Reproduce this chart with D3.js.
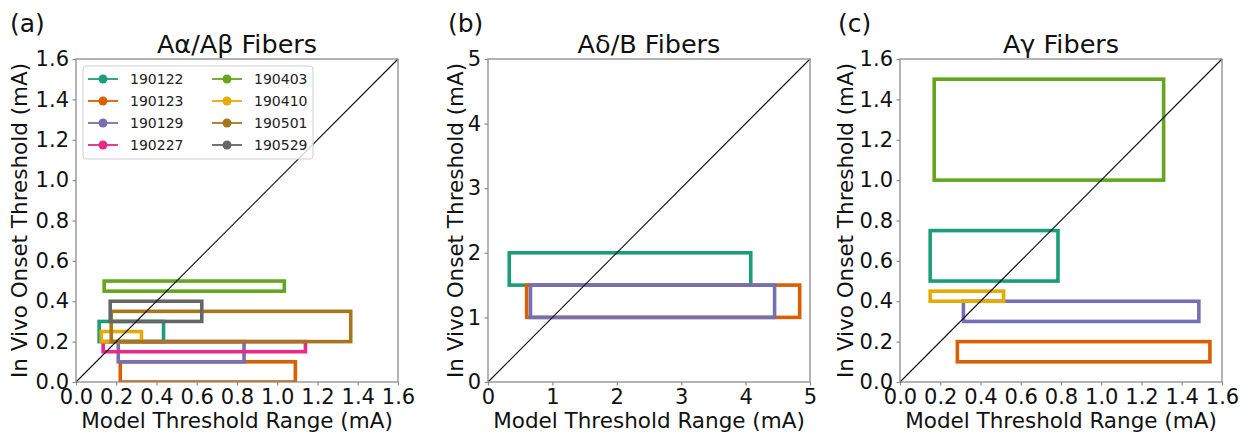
<!DOCTYPE html>
<html>
<head>
<meta charset="utf-8">
<script src="https://cdn.jsdelivr.net/npm/d3@7"></script>
<style>
  body { margin: 0; background: #fff; }
  svg { font-family: "DejaVu Sans", sans-serif; }
</style>
</head>
<body>
<svg width="1257" height="439"></svg>
<script>
// recording sessions, in plotting / legend order
const sessions = ['190122', '190123', '190129', '190227', '190403', '190410', '190501', '190529'];

// [session, model min, model max, in vivo min, in vivo max]  (mA)
const alphaBetaBoxes = [
  ['190122', 0.115, 0.435, 0.2, 0.3],
  ['190123', 0.22, 1.09, 0.0, 0.1],
  ['190129', 0.21, 0.835, 0.1, 0.2],
  ['190227', 0.135, 1.14, 0.15, 0.2],
  ['190403', 0.14, 1.035, 0.45, 0.5],
  ['190410', 0.125, 0.325, 0.2, 0.25],
  ['190501', 0.175, 1.365, 0.2, 0.35],
  ['190529', 0.17, 0.625, 0.3, 0.4]
];
const deltaBBoxes = [
  ['190122', 0.33, 4.08, 1.5, 2.0],
  ['190123', 0.6, 4.84, 1.0, 1.5],
  ['190129', 0.66, 4.45, 1.0, 1.5]
];
const gammaBoxes = [
  ['190122', 0.15, 0.785, 0.5, 0.75],
  ['190123', 0.285, 1.54, 0.1, 0.2],
  ['190129', 0.315, 1.485, 0.3, 0.4],
  ['190403', 0.17, 1.31, 1.0, 1.5],
  ['190410', 0.15, 0.515, 0.4, 0.45]
];

const fineTicks = [0, 0.2, 0.4, 0.6, 0.8, 1.0, 1.2, 1.4, 1.6];
const coarseTicks = [0, 1, 2, 3, 4, 5];

const color = d3.scaleOrdinal(sessions, d3.schemeDark2);
const svg = d3.select('svg');

const plotTop = 59, plotBottom = 382;
const spine = '#8c8c8c';

function drawPanel(p, idx) {
  const x = d3.scaleLinear().domain([0, p.max]).range([p.left, p.left + 322]);
  const y = d3.scaleLinear().domain([0, p.max]).range([plotBottom, plotTop]);
  const fmt = p.max > 2 ? d3.format('d') : d3.format('.1f');

  const clipId = 'clip' + idx;
  svg.append('clipPath').attr('id', clipId)
    .append('rect')
    .attr('x', x(0)).attr('y', y(p.max))
    .attr('width', x(p.max) - x(0)).attr('height', y(0) - y(p.max));

  // axes
  const gx = svg.append('g')
    .attr('transform', `translate(0, ${plotBottom})`)
    .call(d3.axisBottom(x).tickValues(p.ticks).tickFormat(fmt).tickSize(3.5).tickPadding(3.5));
  const gy = svg.append('g')
    .attr('transform', `translate(${p.left}, 0)`)
    .call(d3.axisLeft(y).tickValues(p.ticks).tickFormat(fmt).tickSize(3.5).tickPadding(3.5));
  [gx, gy].forEach(g => {
    g.select('.domain').remove();
    g.selectAll('line').attr('stroke', spine).attr('stroke-width', 1.2);
    g.selectAll('text').attr('font-size', 21).attr('fill', '#111')
      .attr('font-family', '"DejaVu Sans", sans-serif');
  });

  // boxes
  svg.append('g').attr('clip-path', `url(#${clipId})`)
    .selectAll('rect')
    .data(p.boxes)
    .join('rect')
    .attr('x', d => x(d[1]))
    .attr('y', d => y(d[4]))
    .attr('width', d => x(d[2]) - x(d[1]))
    .attr('height', d => y(d[3]) - y(d[4]))
    .attr('fill', 'none')
    .attr('stroke', d => color(d[0]))
    .attr('stroke-width', 3.6);

  // unity line
  svg.append('line')
    .attr('x1', x(0)).attr('y1', y(0))
    .attr('x2', x(p.max)).attr('y2', y(p.max))
    .attr('stroke', '#111').attr('stroke-width', 1.1);

  // frame
  svg.append('rect')
    .attr('x', x(0)).attr('y', y(p.max))
    .attr('width', x(p.max) - x(0)).attr('height', y(0) - y(p.max))
    .attr('fill', 'none').attr('stroke', spine).attr('stroke-width', 1.3);

  // labels
  svg.append('text')
    .attr('x', (x(0) + x(p.max)) / 2).attr('y', 53)
    .attr('text-anchor', 'middle').attr('font-size', 25.5).attr('fill', '#111')
    .text(p.title);
  svg.append('text')
    .attr('x', (x(0) + x(p.max)) / 2).attr('y', 428)
    .attr('text-anchor', 'middle').attr('font-size', 21.5).attr('fill', '#111')
    .text('Model Threshold Range (mA)');
  const ly = (plotTop + plotBottom) / 2;
  svg.append('text')
    .attr('transform', `translate(${p.left - p.labelOffset}, ${ly}) rotate(-90)`)
    .attr('text-anchor', 'middle').attr('font-size', 21.5).attr('fill', '#111')
    .text('In Vivo Onset Threshold (mA)');
  svg.append('text')
    .attr('x', p.tagX).attr('y', 32)
    .attr('font-size', 25).attr('fill', '#111')
    .text(p.tag);
}

const panels = [
  {tag: '(a)', tagX: 10, title: 'Aα/Aβ Fibers', left: 76, max: 1.6, ticks: fineTicks, boxes: alphaBetaBoxes, labelOffset: 49},
  {tag: '(b)', tagX: 448, title: 'Aδ/B Fibers', left: 488, max: 5, ticks: coarseTicks, boxes: deltaBBoxes, labelOffset: 25},
  {tag: '(c)', tagX: 838, title: 'Aγ Fibers', left: 900, max: 1.6, ticks: fineTicks, boxes: gammaBoxes, labelOffset: 47}
];
panels.forEach(drawPanel);

// legend in panel (a)
const legend = svg.append('g');
legend.append('rect')
  .attr('x', 83).attr('y', 66).attr('width', 230).attr('height', 93)
  .attr('rx', 3)
  .attr('fill', '#fff').attr('fill-opacity', 0.8)
  .attr('stroke', '#cfcfcf').attr('stroke-width', 1);

const items = legend.selectAll('g.item')
  .data(sessions)
  .join('g')
  .attr('class', 'item')
  .attr('transform', (d, i) => `translate(${i < 4 ? 88 : 212}, ${79 + (i % 4) * 22})`);
items.append('line')
  .attr('x1', 0).attr('x2', 30)
  .attr('stroke', d => color(d)).attr('stroke-width', 1.8);
items.append('circle')
  .attr('cx', 15).attr('r', 4.5)
  .attr('fill', d => color(d));
items.append('text')
  .attr('x', 42).attr('dy', '0.36em')
  .attr('font-size', 14).attr('fill', '#222')
  .text(d => d);
</script>
</body>
</html>
